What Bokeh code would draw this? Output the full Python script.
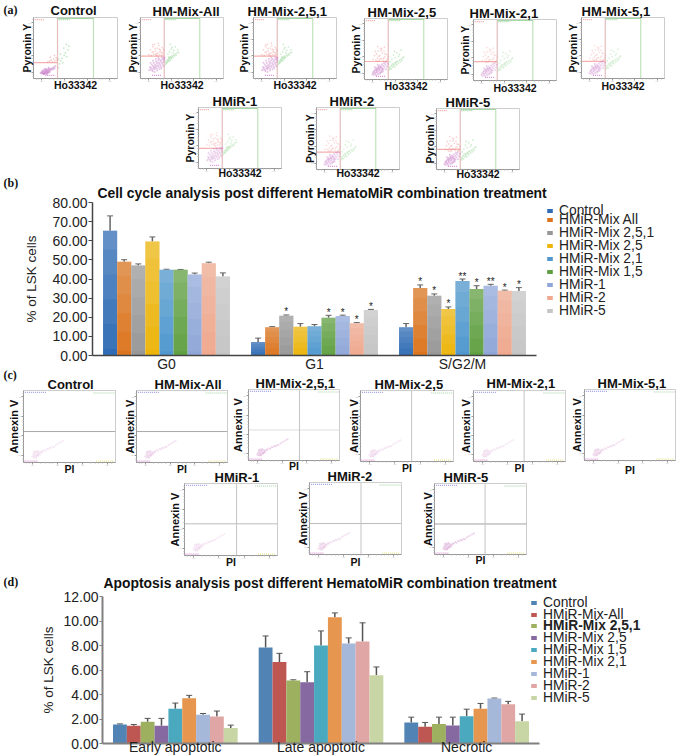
from bokeh.core.properties import value
from bokeh.embed import file_html
from bokeh.resources import INLINE
from bokeh.plotting import figure
from bokeh.layouts import column, row
from bokeh.models import (ColumnDataSource, FactorRange, FixedTicker, Legend, LegendItem,
                          NumeralTickFormatter, Range1d, TeeHead, Whisker)
from bokeh.transform import dodge

SANS = "Liberation Sans"
SERIF = "Liberation Serif"

# ---- panel (b) data
B_CATS = ["G0", "G1", "S/G2/M"]
B_SERIES = ["Control", "HMiR-Mix All", "HMiR-Mix 2,5,1", "HMiR-Mix 2,5", "HMiR-Mix 2,1",
            "HMiR-Mix 1,5", "HMiR-1", "HMiR-2", "HMiR-5"]
B_COLORS = ["#2F6CB5", "#DC741E", "#979797", "#EDB50A", "#4F97CE", "#5FA041", "#8FA7D8", "#F0A88E", "#C5C5C5"]
B_G0 = [65.2, 49.0, 47.0, 59.6, 44.9, 44.8, 42.3, 48.2, 41.3]
B_G1 = [7.0, 14.8, 20.8, 15.0, 15.3, 19.8, 20.6, 16.9, 23.8]
B_S = [14.8, 35.3, 31.3, 24.3, 39.0, 34.8, 36.5, 33.9, 33.7]
B_G0_ERR = [7.8, 1.1, 0.9, 2.4, 0.2, 0.2, 0.8, 0.6, 1.9]
B_G1_ERR = [2.1, 0.3, 0.4, 1.7, 0.9, 1.2, 0.5, 0.3, 0.3]
B_S_ERR = [1.9, 1.6, 0.9, 1.1, 1.0, 1.7, 0.7, 0.3, 1.8]
B_G1_STARS = ["", "", "*", "", "", "*", "*", "*", "*"]
B_S_STARS = ["", "*", "*", "*", "**", "*", "**", "*", "*"]
B_TICKS = [0, 10, 20, 30, 40, 50, 60, 70, 80]

# ---- panel (d) data
D_CATS = ["Early apoptotic", "Late apoptotic", "Necrotic"]
D_SERIES = ["Control", "HMiR-Mix-All", "HMiR-Mix 2,5,1", "HMiR-Mix 2,5", "HMiR-Mix 1,5",
            "HMiR-Mix 2,1", "HMiR-1", "HMiR-2", "HMiR-5"]
D_COLORS = ["#5283B5", "#BE5652", "#9CB05F", "#8569A0", "#4AA9BF", "#E6964E", "#A5B8D9", "#DFA6A5", "#C8D6A5"]
D_EARLY = [1.55, 1.45, 1.77, 1.45, 2.83, 3.70, 2.35, 2.20, 1.27]
D_LATE = [7.83, 6.65, 5.15, 5.00, 8.00, 10.30, 8.17, 8.33, 5.57]
D_NECRO = [1.72, 1.36, 1.60, 1.47, 2.23, 2.84, 3.68, 3.20, 1.82]
D_EARLY_ERR = [0.05, 0.10, 0.28, 0.60, 0.47, 0.23, 0.10, 0.45, 0.23]
D_LATE_ERR = [0.95, 0.71, 0.05, 0.86, 1.19, 0.36, 0.45, 1.52, 0.68]
D_NECRO_ERR = [0.43, 0.36, 0.55, 0.68, 0.57, 0.43, 0.03, 0.24, 0.58]
D_TICKS = [0, 2, 4, 6, 8, 10, 12]

# ---- flow cytometry clouds, panel (a), read in per-mille of the plot box
MAG_HI_X = [105,115,120,130,135,140,150,155,160,165,170,175,180,185,190,195,200,205,210,215,220,225,230,235,240,245,250,255,260,265,270,275,280,285,290,120,145,170,200,230,150,185,215,250,275]
MAG_HI_Y = [135,190,150,175,230,140,205,165,255,190,150,220,175,280,200,240,165,265,215,300,190,250,320,225,280,195,300,255,340,230,315,270,345,300,330,260,120,105,130,150,290,320,340,170,200]
RED_HI_X = [100,120,140,150,160,170,180,190,200,210,220,230,240,250,260,270,280,130,155,175,195,215,235,255,275,145,185,225,265,205]
RED_HI_Y = [390,470,430,520,400,560,450,380,500,420,540,390,470,430,510,400,450,380,440,490,410,580,440,380,480,550,400,480,420,370]
GRN_HI_X = [300,305,310,315,320,325,330,335,340,345,350,355,360,365,370,375,380,390,400,410,420,430,440,460,330,350,370,390,420,450,340,380,400,360]
GRN_HI_Y = [230,270,250,290,260,310,275,300,330,285,320,345,300,360,335,330,370,350,385,370,400,385,420,430,400,440,480,420,520,470,350,510,460,560]

MAG_LO_X = [95,105,110,115,120,125,130,135,140,145,150,155,160,165,170,175,180,185,190,195,200,205,210,215,220,225,230,240,250,260,270,280,140,165,185,205,150,175,195,215,125,160,235,255]
MAG_LO_Y = [90,120,75,135,105,150,95,170,125,190,145,110,175,215,135,195,155,230,115,175,210,145,250,185,130,225,165,200,240,170,215,260,70,85,100,120,160,180,200,165,200,240,270,280]
RED_LO_X = [105,120,135,145,155,165,175,185,195,205,215,225,235,245,255,265,275,285,130,150,170,190,210,230,250,270,160,200,240,180]
RED_LO_Y = [330,390,320,420,350,470,300,390,510,340,430,310,460,370,300,410,340,380,460,300,380,340,500,350,420,310,540,470,530,320]
GRN_LO_X = [300,305,310,320,325,330,340,345,350,360,365,370,380,385,390,400,410,420,430,440,450,460,470,330,350,370,390,420,440,310,360,410]
GRN_LO_Y = [160,200,180,220,175,240,205,260,225,250,210,280,260,290,240,300,270,320,290,330,310,350,370,330,400,360,440,410,480,290,460,380]

MAG_CT_X = [85,95,100,105,110,115,120,125,130,135,140,145,150,155,160,165,170,175,180,185,190,195,200,210,220,230,240,250,260,120,140,160,130,150,170,180]
MAG_CT_Y = [95,80,120,100,85,130,105,75,115,90,135,105,125,85,145,110,130,95,150,120,140,105,160,140,170,150,185,165,200,70,80,70,150,160,100,175]
RED_CT_X = [170,190,210,225,240,255,270,280,200,250]
RED_CT_Y = [270,285,300,275,320,290,340,305,350,380]
GRN_CT_X = [300,310,325,340,350,365,380,395,410,420,320,360,390,300]
GRN_CT_Y = [180,240,290,330,260,380,420,360,470,530,400,500,560,320]

# ---- flow cytometry clouds, panel (c)
STREAK_X = [95,105,110,115,120,125,130,135,140,145,150,155,160,165,170,180,190,200,210,225,240,255,270,285,300,315,330,350,370,390,410,430,120,140,160,180,110,130,150]
STREAK_Y = [85,110,75,125,95,140,105,80,130,100,145,115,90,150,125,140,135,160,150,175,165,190,185,205,200,220,215,240,255,270,285,300,70,70,105,110,150,155,165]

# ---- tick positions for the small plot boxes
FLOW_TICKS = [100, 370, 640, 910]
FLOW_MINOR = [30, 60, 190, 240, 280, 320, 460, 510, 550, 590, 730, 780, 820, 860, 960]
GATE_LOW, GATE_HIGH, TOP_GATE = 286, 714, 985
TITLE_W = {"Control": 46, "HM-Mix-All": 67, "HM-Mix-2,5,1": 82, "HM-Mix-2,5": 71, "HM-Mix-2,1": 71, "HM-Mix-5,1": 71,
           "HMiR-1": 45, "HMiR-2": 45, "HMiR-5": 45}
BORDER_TOP, BORDER_BOTTOM = 30, 26


def base_flow(spec, left, width, ylabel, xlabel, ysize):
    l, r, t, b = spec["frame"]
    p = figure(width=width, height=BORDER_TOP + (b - t) + BORDER_BOTTOM, x_range=Range1d(0, 1000), y_range=Range1d(0, 1000),
               toolbar_location=None, output_backend="svg", title=spec["title"],
               min_border_left=l - left, min_border_right=left + width - r,
               min_border_top=BORDER_TOP, min_border_bottom=BORDER_BOTTOM)
    p.background_fill_color = None
    p.border_fill_color = None
    p.outline_line_color = "#CDCDCD"
    p.grid.visible = False
    p.title.text_font = SANS
    p.title.text_font_size = "13px"
    p.title.text_font_style = "bold"
    p.title.text_color = "#111111"
    p.title.align = "left"
    cx, cy = spec["title_at"]
    p.title.offset = int(cx - TITLE_W[spec["title"]] / 2 - l)
    p.title.standoff = int(t - cy - 8)
    for ax in p.axis:
        ax.ticker = FixedTicker(ticks=FLOW_TICKS, minor_ticks=FLOW_MINOR)
        ax.axis_line_color = "#999999"
        ax.major_tick_line_color = "#999999"
        ax.minor_tick_line_color = "#BBBBBB"
        ax.major_tick_in = 0
        ax.major_tick_out = 2
        ax.minor_tick_in = 0
        ax.minor_tick_out = 1
        ax.major_label_text_font_size = "2px"
        ax.major_label_text_color = "#BBBBBB"
        ax.major_label_standoff = 0
        ax.axis_label_text_font = SANS
        ax.axis_label_text_font_style = "bold"
        ax.axis_label_text_color = "#111111"
    p.yaxis.axis_label = ylabel
    p.yaxis.axis_label_text_font_size = ysize
    p.yaxis.axis_label_standoff = int(l - spec["ylab_at"][0] - 14)
    p.xaxis.axis_label = xlabel
    p.xaxis.axis_label_text_font_size = "10.5px"
    p.xaxis.axis_label_standoff = int(spec["xlab_at"][1] - b - 14)
    return p


def a_panel(spec, left, width):
    p = base_flow(spec, left, width, "Pyronin Y", "Ho33342", "10.5px")
    gy = spec["gate"]
    p.segment([GATE_LOW], [0], [GATE_LOW], [1000], line_color="#E4BDBD", line_width=1.2)
    p.segment([GATE_HIGH], [0], [GATE_HIGH], [1000], line_color="#BFE2BA", line_width=1.2)
    p.segment([0], [gy], [GATE_LOW], [gy], line_color="#F5B0B0", line_width=1.2)
    p.segment([GATE_LOW], [TOP_GATE], [GATE_HIGH], [TOP_GATE], line_color="#A5D8A5", line_width=1.3)
    p.segment([0], [0], [GATE_LOW], [0], line_color="#D8A8D8", line_width=1.2)
    p.segment([15], [965], [125], [965], line_color="#F2A0A0", line_width=1.3, line_dash="1 1")
    p.segment([300], [965], [430], [965], line_color="#A0D0A0", line_width=1.3, line_dash="1 1")
    p.segment([140], [50], [260], [50], line_color="#D890D8", line_width=1.3, line_dash="1 1")
    mx, my, rx, ry, gx, gyy, alpha = spec["cloud"]
    p.scatter(rx, ry, size=1.7, color="#F07C7C", alpha=alpha, line_color=None)
    p.scatter(mx, my, size=2.0, color="#B858B8", alpha=alpha, line_color=None)
    p.scatter(gx, gyy, size=1.7, color="#6CC46C", alpha=alpha, line_color=None)
    return p


def c_panel(spec, left, width):
    p = base_flow(spec, left, width, "Annexin V", "PI", "11px")
    if spec["h"]:
        p.segment([0], [spec["hy"]], [1000], [spec["hy"]], line_color=spec["h"], line_width=1)
    if spec["v"]:
        p.segment([spec["vx"]], [0], [spec["vx"]], [1000], line_color=spec["v"], line_width=1)
    p.segment([15], [975], [250], [975], line_color="#A0A0E8", line_width=1.2, line_dash="1 1")
    p.segment([760], [965], [990], [965], line_color="#A0D0A0", line_width=1.2, line_dash="1 1")
    p.segment([10], [20], [150], [20], line_color="#DC90D0", line_width=1.2, line_dash="1 1")
    p.segment([790], [20], [980], [20], line_color="#E8E490", line_width=1.2, line_dash="1 1")
    p.scatter(STREAK_X, STREAK_Y, size=1.9, color="#C878C0", alpha=spec["alpha"], line_color=None)
    return p


def letter_fig(text, y_center, row_top):
    size = 20
    p = figure(width=size, height=size, x_range=Range1d(0, size), y_range=Range1d(size, 0),
               toolbar_location=None, output_backend="svg", x_axis_location=None, y_axis_location=None,
               min_border=0)
    shift = y_center - row_top - size // 2
    p.margin = (shift, 0, -shift - size, 0)
    p.background_fill_color = None
    p.border_fill_color = None
    p.outline_line_color = None
    p.grid.visible = False
    p.text([3], [size / 2], [text], text_font=value(SERIF), text_font_style="bold", text_font_size="12px",
           text_baseline="middle", text_color="#111111")
    return p


def build_row(specs, maker, top, height):
    figs = []
    lefts = [0] + [s["ylab_at"][0] - 8 for s in specs[1:]]
    rights = lefts[1:] + [677]
    for s, l, r in zip(specs, lefts, rights):
        t, b = s["frame"][2], s["frame"][3]
        f = maker(s, l, r - l)
        f.margin = (t - BORDER_TOP - top, 0, top + height - b - BORDER_BOTTOM, 0)
        figs.append(f)
    return row(*figs)


HI = (MAG_HI_X, MAG_HI_Y, RED_HI_X, RED_HI_Y, GRN_HI_X, GRN_HI_Y, 0.34)
HI2 = (MAG_HI_X, MAG_HI_Y, RED_HI_X, RED_HI_Y, GRN_HI_X, GRN_HI_Y, 0.26)
LO = (MAG_LO_X, MAG_LO_Y, RED_LO_X, RED_LO_Y, GRN_LO_X, GRN_LO_Y, 0.34)
LO2 = (MAG_LO_X, MAG_LO_Y, RED_LO_X, RED_LO_Y, GRN_LO_X, GRN_LO_Y, 0.26)
CT = (MAG_CT_X, MAG_CT_Y, RED_CT_X, RED_CT_Y, GRN_CT_X, GRN_CT_Y, 0.42)

A1 = [
    dict(title="Control", frame=(33, 117, 17, 78), gate=260, cloud=CT, title_at=(73, 10), ylab_at=(27, 49), xlab_at=(73, 86)),
    dict(title="HM-Mix-All", frame=(139, 223, 17, 78), gate=366, cloud=HI, title_at=(185, 11), ylab_at=(132, 48), xlab_at=(180, 86)),
    dict(title="HM-Mix-2,5,1", frame=(252, 336, 17, 78), gate=366, cloud=HI, title_at=(287, 11), ylab_at=(243, 48), xlab_at=(293, 86)),
    dict(title="HM-Mix-2,5", frame=(363, 447, 18, 79), gate=295, cloud=LO, title_at=(402, 12), ylab_at=(355, 47), xlab_at=(408, 87)),
    dict(title="HM-Mix-2,1", frame=(472, 556, 19, 80), gate=310, cloud=LO2, title_at=(503, 13), ylab_at=(464, 47), xlab_at=(515, 89)),
    dict(title="HM-Mix-5,1", frame=(580, 664, 17, 78), gate=280, cloud=LO2, title_at=(616, 11), ylab_at=(572, 47), xlab_at=(619, 87)),
]
A2 = [
    dict(title="HMiR-1", frame=(198, 281, 107, 168), gate=330, cloud=HI2, title_at=(235, 101), ylab_at=(190, 136), xlab_at=(239, 174)),
    dict(title="HMiR-2", frame=(315, 399, 107, 169), gate=280, cloud=LO2, title_at=(351, 101), ylab_at=(309, 137), xlab_at=(353, 174)),
    dict(title="HMiR-5", frame=(435, 519, 108, 169), gate=330, cloud=LO, title_at=(467, 102), ylab_at=(429, 136), xlab_at=(476, 175)),
]
C1 = [
    dict(title="Control", frame=(23, 115, 390, 462), h="#A8A8A8", hy=430, v=None, vx=0, alpha=0.16, title_at=(70, 384), ylab_at=(14, 423), xlab_at=(63, 470)),
    dict(title="HM-Mix-All", frame=(135, 227, 390, 462), h="#A8A8A8", hy=430, v=None, vx=0, alpha=0.22, title_at=(187, 384), ylab_at=(129, 423), xlab_at=(177, 470)),
    dict(title="HM-Mix-2,5,1", frame=(247, 339, 389, 460), h="#DDDDDD", hy=430, v="#C4C4C4", vx=560, alpha=0.3, title_at=(295, 384), ylab_at=(237, 422), xlab_at=(292, 467)),
    dict(title="HM-Mix-2,5", frame=(359, 453, 390, 461), h=None, hy=0, v="#C4C4C4", vx=550, alpha=0.18, title_at=(409, 384), ylab_at=(353, 424), xlab_at=(404, 469)),
    dict(title="HM-Mix-2,1", frame=(472, 565, 390, 461), h=None, hy=0, v="#C4C4C4", vx=550, alpha=0.16, title_at=(521, 383), ylab_at=(465, 424), xlab_at=(516, 469)),
    dict(title="HM-Mix-5,1", frame=(583, 675, 389, 460), h=None, hy=0, v=None, vx=0, alpha=0.22, title_at=(632, 383), ylab_at=(576, 422), xlab_at=(627, 471)),
]
C2 = [
    dict(title="HMiR-1", frame=(184, 277, 483, 555), h="#BBBBBB", hy=440, v="#C4C4C4", vx=560, alpha=0.16, title_at=(237, 477), ylab_at=(175, 519), xlab_at=(228, 563)),
    dict(title="HMiR-2", frame=(308, 401, 482, 554), h="#BBBBBB", hy=430, v="#C4C4C4", vx=560, alpha=0.22, title_at=(349, 477), ylab_at=(302, 517), xlab_at=(355, 563)),
    dict(title="HMiR-5", frame=(433, 526, 483, 554), h="#A0A0A0", hy=430, v="#C4C4C4", vx=550, alpha=0.34, title_at=(465, 478), ylab_at=(427, 518), xlab_at=(480, 561)),
]


def bar_chart(cats, series, colors, groups, errs, stars, ticks, ymax, title, frame, top, height, top_bleed, bottom_bleed,
              bar_px, tick_out, layers, axis_color, axis_width, whisk_color, whisk_width,
              label_gap, title_offset, title_standoff, ylabel_standoff):
    l, r, t, b = frame
    group_px = (r - l) / len(cats)
    right_bleed = 30
    p = figure(width=r + right_bleed, height=height + top_bleed + bottom_bleed,
               x_range=FactorRange(factors=cats, factor_padding=0, group_padding=0, range_padding=0),
               y_range=Range1d(0, ymax), toolbar_location=None, output_backend="svg",
               title=title, min_border_left=l, min_border_right=right_bleed, min_border_top=t - top + top_bleed,
               min_border_bottom=top + height + bottom_bleed - b)
    p.margin = (-top_bleed, -right_bleed, -bottom_bleed, 0)
    p.background_fill_color = None
    p.border_fill_color = None
    p.outline_line_color = None
    p.grid.visible = False
    p.title.text_font = SANS
    p.title.text_font_size = "13.9px"
    p.title.text_font_style = "bold"
    p.title.text_color = "#111111"
    p.title.align = "left"
    p.title.offset = title_offset
    p.title.standoff = title_standoff
    width = bar_px / group_px
    for i, name in enumerate(series):
        vals = [g[i] for g in groups]
        err = [e[i] for e in errs]
        src = dict(cat=cats, value=vals, upper=[v + e for v, e in zip(vals, err)])
        if stars:
            src["stars"] = [st[i] for st in stars]
        source = ColumnDataSource(src)
        off = (i - 4) * width
        p.vbar(x=dodge("cat", off, range=p.x_range), top="value", width=width, source=source,
               fill_color=colors[i], line_color=None)
        for f, a in layers:
            src2 = ColumnDataSource(dict(cat=cats, value=vals, low=[v * f for v in vals]))
            p.vbar(x=dodge("cat", off, range=p.x_range), bottom="low", top="value", width=width, source=src2,
                   fill_color="white", fill_alpha=a, line_color=None)
        p.add_layout(Whisker(base=dodge("cat", off, range=p.x_range), lower="value", upper="upper", source=source,
                             dimension="height", line_color=whisk_color, line_width=whisk_width,
                             upper_head=TeeHead(size=6, line_color=whisk_color, line_width=1), lower_head=None))
        if stars:
            p.text(x=dodge("cat", off, range=p.x_range), y="upper", text="stars", source=source, text_font_size="10px",
                   text_font=value(SANS), text_align="center", text_baseline="alphabetic", text_color="#222222",
                   y_offset=-3)
    for ax in p.axis:
        ax.axis_line_color = axis_color
        ax.axis_line_width = axis_width
        ax.major_label_text_font = SANS
        ax.major_label_text_font_size = "14px"
        ax.major_label_text_color = "#222222"
        ax.minor_tick_line_color = None
    p.xaxis.major_tick_line_color = None
    p.xaxis.major_tick_out = 0
    p.xaxis.major_tick_in = 0
    p.xaxis.major_label_standoff = label_gap
    p.yaxis.ticker = FixedTicker(ticks=ticks)
    p.yaxis.formatter = NumeralTickFormatter(format="0.00")
    p.yaxis.major_tick_in = 0
    p.yaxis.major_tick_out = tick_out
    p.yaxis.major_tick_line_color = axis_color
    p.yaxis.major_label_standoff = 1
    p.yaxis.axis_label = "% of LSK cells"
    p.yaxis.axis_label_text_font = SANS
    p.yaxis.axis_label_text_font_size = "13.5px"
    p.yaxis.axis_label_text_font_style = "normal"
    p.yaxis.axis_label_text_color = "#222222"
    p.yaxis.axis_label_standoff = ylabel_standoff
    return p


def legend_fig(names, colors, rows, styles, left, frame_bottom, chart_fig, margin_left):
    # shares the row with the bar chart, so its plot box lines up with the chart's
    p = figure(width=677 - left, height=chart_fig.height, x_range=Range1d(0, 1), y_range=Range1d(0, 1),
               toolbar_location=None, output_backend="svg", x_axis_location=None, y_axis_location=None,
               min_border_left=0, min_border_right=0, min_border_top=chart_fig.min_border_top,
               min_border_bottom=chart_fig.min_border_bottom)
    p.margin = (chart_fig.margin[0], 0, chart_fig.margin[2], margin_left)
    p.background_fill_color = None
    p.border_fill_color = None
    p.outline_line_color = None
    p.grid.visible = False
    for name, color, y, style in zip(names, colors, rows, styles):
        r = p.vbar(x=[5], top=[5], width=0.1, fill_color=color, line_color=None)
        lg = Legend(items=[LegendItem(label=name, renderers=[r])],
                    location=(0, frame_bottom - y - 8), orientation="vertical", padding=0, margin=0,
                    glyph_width=7, glyph_height=5, label_standoff=6, spacing=0, label_height=16,
                    background_fill_alpha=0, border_line_color=None, label_text_font=SANS,
                    label_text_font_size="13.8px", label_text_color="#222222", label_text_font_style=style,
                    label_text_baseline="middle")
        p.add_layout(lg, "center")
    return p


B_LEGEND_ROWS = [210, 219, 232, 245, 258, 271, 284, 297, 310]
D_LEGEND_ROWS = [602, 614, 625, 637, 649, 661, 673, 685, 697]

fig_b = bar_chart(B_CATS, B_SERIES, B_COLORS, [B_G0, B_G1, B_S], [B_G0_ERR, B_G1_ERR, B_S_ERR],
                  [["" for _ in B_SERIES], B_G1_STARS, B_S_STARS], B_TICKS, 80,
                  "Cell cycle analysis post different HematoMiR combination treatment",
                  (92, 536, 202, 355), 181, 191, 0, 8, 14.1, 4,
                  [(0.05, 0.05), (0.25, 0.05), (0.45, 0.06), (0.65, 0.06), (0.85, 0.07)],
                  "#444444", 1.5, "#666666", 1.5, 0, 5, 3, 10)
leg_b = legend_fig(B_SERIES, B_COLORS, B_LEGEND_ROWS, ["normal"] * 9, 546, 355, fig_b, 10)
row_b = row(fig_b, leg_b)

fig_d = bar_chart(D_CATS, D_SERIES, D_COLORS, [D_EARLY, D_LATE, D_NECRO], [D_EARLY_ERR, D_LATE_ERR, D_NECRO_ERR],
                  None, D_TICKS, 12,
                  "Apoptosis analysis post different HematoMiR combination treatment",
                  (102, 539, 596, 743), 570, 185, 10, 8, 13.85, 3, [],
                  "#808080", 2, "#555555", 1.5, -5, 1, 11, 4)
leg_d = legend_fig(D_SERIES, D_COLORS, D_LEGEND_ROWS, ["bold" if s == "HMiR-Mix 2,5,1" else "normal" for s in D_SERIES],
                   530, 743, fig_d, -9)
row_d = row(fig_d, leg_d)

a1_row = build_row(A1, a_panel, 0, 95)
a2_row = build_row(A2, a_panel, 95, 86)
c1_row = build_row(C1, c_panel, 372, 100)
c2_row = build_row(C2, c_panel, 472, 98)

root = column(letter_fig("(a)", 9, 0), a1_row, a2_row, letter_fig("(b)", 182, 181), row_b,
              letter_fig("(c)", 374, 372), c1_row, c2_row, letter_fig("(d)", 581, 570), row_d, spacing=0)
root.styles = {"overflow": "hidden"}
open("out.html", "w").write(file_html(root, INLINE))
